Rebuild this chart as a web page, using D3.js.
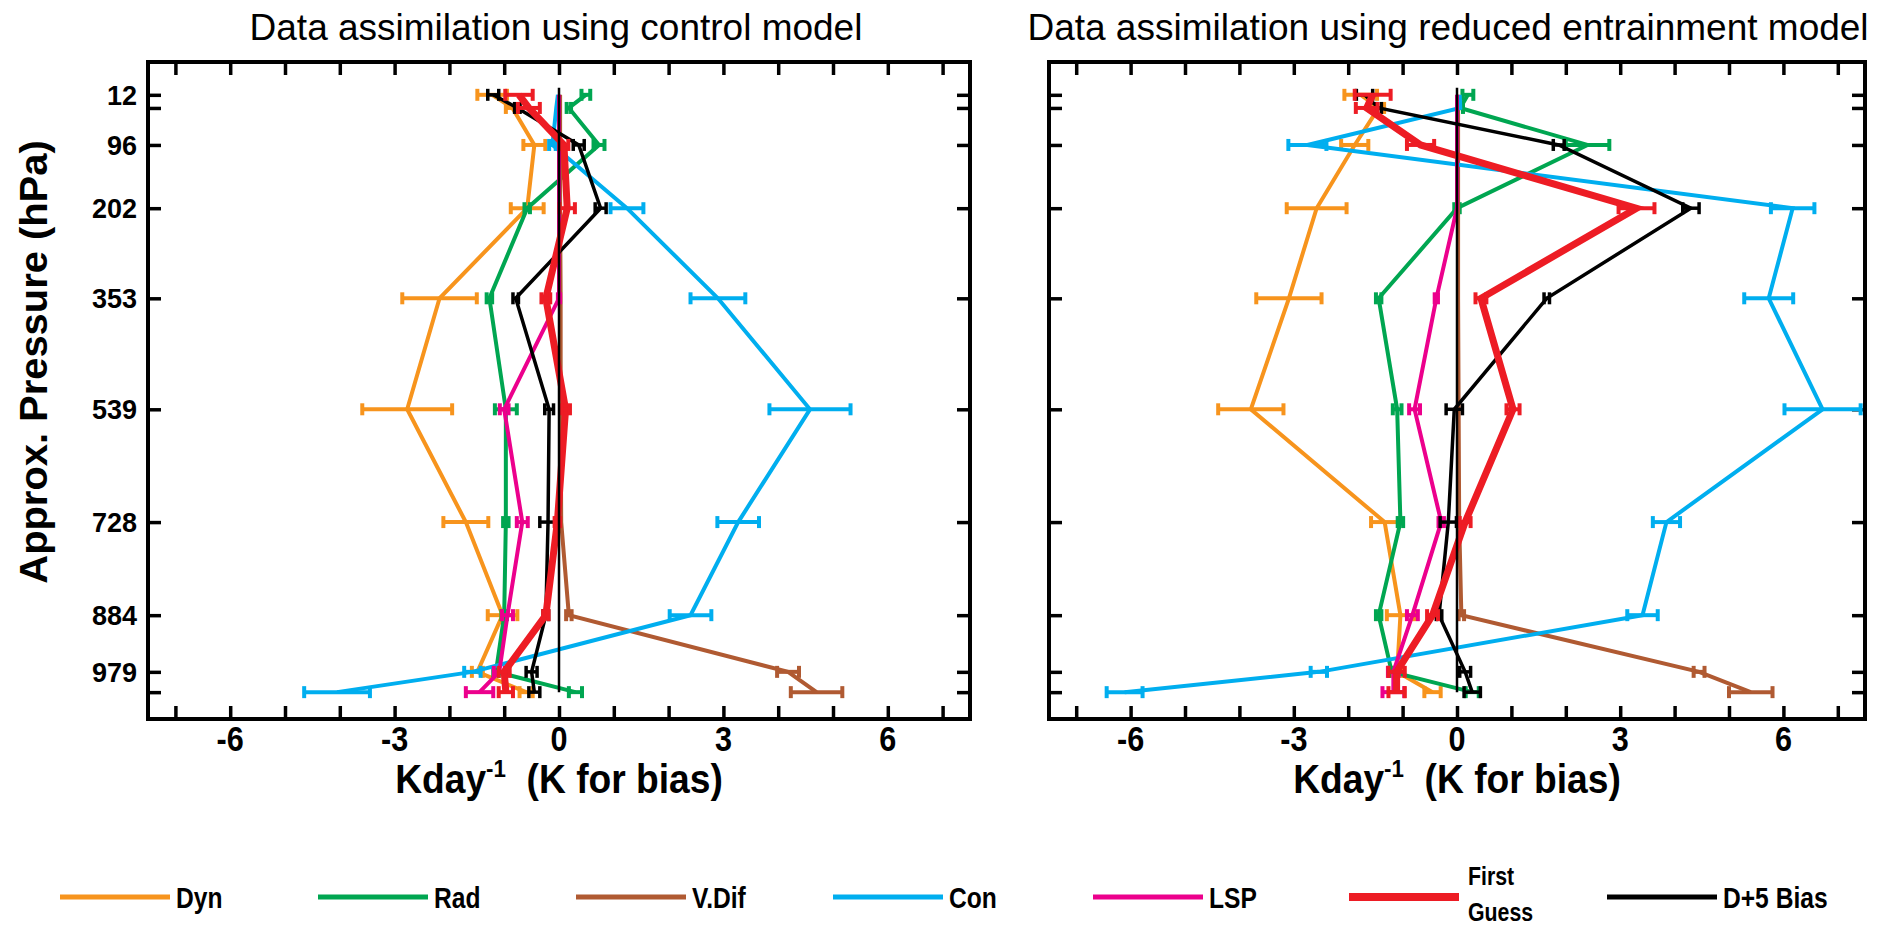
<!DOCTYPE html>
<html lang="en">
<head>
<meta charset="UTF-8">
<title>Data assimilation tendency profiles</title>
<script src="https://d3js.org/d3.v7.min.js"></script>
<style>
  body { margin: 0; background: #fff; }
  svg text { font-family: "Liberation Sans", Arial, sans-serif; fill: #000; }
</style>
</head>
<body>
<svg id="main" width="1880" height="934"></svg>
<script>
// levels (approx. pressure, hPa) and tick labels
const levels = [12, 34, 96, 202, 353, 539, 728, 884, 979, 1013];
const levelLabels = [12, 96, 202, 353, 539, 728, 884, 979];
const xTickLabels = [-6, -3, 0, 3, 6];
const xTicks = d3.range(-7, 8);

const names = ['Dyn', 'Rad', 'V.Dif', 'Con', 'LSP', 'First Guess', 'D+5 Bias'];
const colors = ['#f7941d', '#00a651', '#b05a32', '#00aeef', '#ec008c', '#ed1c24', '#000000'];
const widths = [4, 4, 4, 4, 4, 7, 3.5];

// control model
const ctlDyn = [-1.22, -0.85, -0.45, -0.58, -2.18, -2.77, -1.70, -1.03, -1.49, -0.60];
const ctlDynErr = [0.27, 0.12, 0.2, 0.3, 0.68, 0.82, 0.41, 0.27, 0.1, 0.12];
const ctlRad = [0.49, 0.18, 0.73, -0.58, -1.27, -0.97, -0.97, -1.0, -1.15, 0.3];
const ctlRadErr = [0.08, 0.04, 0.1, 0.05, 0.05, 0.2, 0.05, 0.05, 0.05, 0.12];
const ctlVdf = [0.02, 0.02, 0.02, 0.02, 0.03, 0.03, 0.04, 0.18, 4.18, 4.7];
const ctlVdfErr = [0, 0, 0, 0, 0, 0, 0, 0.05, 0.2, 0.47];
const ctlCon = [-0.02, -0.05, -0.12, 1.24, 2.9, 4.58, 3.27, 2.4, -1.58, -4.05];
const ctlConErr = [0, 0, 0.06, 0.3, 0.5, 0.74, 0.38, 0.38, 0.15, 0.6];
const ctlLsp = [0, 0, 0, 0, 0, -1.0, -0.67, -0.94, -1.09, -1.45];
const ctlLspErr = [0, 0, 0, 0, 0.02, 0.08, 0.1, 0.1, 0.1, 0.25];
const ctlFg = [-0.73, -0.55, 0.09, 0.15, -0.24, 0.12, -0.03, -0.24, -1.0, -0.97];
const ctlFgErr = [0.25, 0.2, 0.08, 0.14, 0.08, 0.08, 0.05, 0.05, 0.1, 0.13];
const ctlBias = [-1.2, -0.76, 0.36, 0.76, -0.79, -0.18, -0.2, -0.24, -0.5, -0.45];
const ctlBiasErr = [0.1, 0.05, 0.1, 0.1, 0.05, 0.08, 0.15, 0.05, 0.1, 0.1];

// reduced entrainment model
const redDyn = [-1.77, -1.44, -1.88, -2.58, -3.09, -3.79, -1.33, -1.04, -1.1, -0.45];
const redDynErr = [0.3, 0.1, 0.25, 0.55, 0.6, 0.6, 0.25, 0.25, 0.1, 0.15];
const redRad = [0.2, 0.06, 2.4, 0.0, -1.44, -1.1, -1.04, -1.44, -1.2, 0.28];
const redRadErr = [0.1, 0.05, 0.4, 0.05, 0.05, 0.08, 0.05, 0.05, 0.05, 0.12];
const redVdf = [0.02, 0.02, 0.02, 0.02, 0.02, 0.03, 0.04, 0.08, 4.45, 5.4];
const redVdfErr = [0, 0, 0, 0, 0, 0, 0, 0.05, 0.1, 0.4];
const redCon = [0.05, 0.06, -2.75, 6.17, 5.73, 6.72, 3.85, 3.41, -2.54, -6.11];
const redConErr = [0, 0, 0.35, 0.4, 0.45, 0.7, 0.25, 0.28, 0.15, 0.33];
const redLsp = [0, 0, 0, 0, -0.38, -0.78, -0.29, -0.82, -1.17, -1.17];
const redLspErr = [0, 0, 0, 0, 0.03, 0.1, 0.05, 0.1, 0.1, 0.2];
const redFg = [-1.55, -1.66, -0.67, 3.30, 0.44, 1.03, 0.15, -0.45, -1.11, -1.11];
const redFgErr = [0.33, 0.2, 0.25, 0.33, 0.1, 0.12, 0.1, 0.1, 0.15, 0.15];
const redBias = [-1.70, -1.44, 1.87, 4.30, 1.65, -0.05, -0.16, -0.33, 0.15, 0.28];
const redBiasErr = [0.15, 0.05, 0.1, 0.15, 0.05, 0.15, 0.15, 0.05, 0.1, 0.15];

const ctlSeries = [[ctlDyn, ctlDynErr], [ctlRad, ctlRadErr], [ctlVdf, ctlVdfErr], [ctlCon, ctlConErr],
                   [ctlLsp, ctlLspErr], [ctlFg, ctlFgErr], [ctlBias, ctlBiasErr]];
const redSeries = [[redDyn, redDynErr], [redRad, redRadErr], [redVdf, redVdfErr], [redCon, redConErr],
                   [redLsp, redLspErr], [redFg, redFgErr], [redBias, redBiasErr]];

let svg = d3.select('svg#main');
let yTop = 62, yBottom = 719;
let y = d3.scaleLinear().domain([-43, 1058]).range([yTop, yBottom]);

// draw order: Bias under First Guess
const order = [0, 1, 2, 3, 4, 6, 5];

function drawPanel(x0, x1, series, title, titleX, showY) {
    let g = svg.append('g');
    let x = d3.scaleLinear().domain([-7.5, 7.5]).range([x0, x1]);

    // inward ticks on all four sides
    let tk = 13;
    g.append('g').attr('transform', 'translate(0,' + yBottom + ')')
        .call(d3.axisBottom(x).tickValues(xTicks).tickSize(-tk).tickFormat(''));
    g.append('g').attr('transform', 'translate(0,' + yTop + ')')
        .call(d3.axisTop(x).tickValues(xTicks).tickSize(-tk).tickFormat(''));
    g.append('g').attr('transform', 'translate(' + x0 + ',0)')
        .call(d3.axisLeft(y).tickValues(levels).tickSize(-tk).tickFormat(''));
    g.append('g').attr('transform', 'translate(' + x1 + ',0)')
        .call(d3.axisRight(y).tickValues(levels).tickSize(-tk).tickFormat(''));
    g.selectAll('.domain').remove();
    g.selectAll('.tick line').attr('stroke', '#000').attr('stroke-width', 3.5);

    let line = d3.line().x(d => x(d.v)).y(d => y(d.p));

    order.forEach(function (i) {
        let vals = series[i][0], errs = series[i][1];
        let pts = levels.map((p, k) => ({p: p, v: vals[k], e: errs[k]}));
        let sg = g.append('g').attr('stroke', colors[i]).attr('fill', 'none')
            .attr('stroke-width', widths[i]);
        sg.append('path').attr('d', line(pts)).attr('stroke-linejoin', 'miter');
        let eb = sg.selectAll('g.err').data(pts.filter(d => d.e > 0)).enter().append('g')
            .attr('stroke-width', Math.min(widths[i], 4));
        eb.append('line')
            .attr('x1', d => x(d.v - d.e)).attr('x2', d => x(d.v + d.e))
            .attr('y1', d => y(d.p)).attr('y2', d => y(d.p));
        [-1, 1].forEach(function (s) {
            eb.append('line')
                .attr('x1', d => x(d.v + s * d.e)).attr('x2', d => x(d.v + s * d.e))
                .attr('y1', d => y(d.p) - 6).attr('y2', d => y(d.p) + 6);
        });
    });

    // zero line
    g.append('line').attr('x1', x(0)).attr('x2', x(0))
        .attr('y1', y(0)).attr('y2', y(levels[levels.length - 1]))
        .attr('stroke', '#000').attr('stroke-width', 2.5);

    // frame
    g.append('rect').attr('x', x0).attr('y', yTop).attr('width', x1 - x0).attr('height', yBottom - yTop)
        .attr('fill', 'none').attr('stroke', '#000').attr('stroke-width', 4);

    // x tick labels
    g.selectAll('text.xl').data(xTickLabels).enter().append('text')
        .attr('transform', d => 'translate(' + x(d) + ',' + 751 + ') scale(0.85,1)')
        .attr('text-anchor', 'middle').attr('font-size', 36).attr('font-weight', 'bold')
        .text(d => d);

    // x axis title
    let xt = g.append('text')
        .attr('transform', 'translate(' + x(0) + ',' + 793 + ') scale(0.93,1)')
        .attr('text-anchor', 'middle').attr('font-size', 40).attr('font-weight', 'bold');
    xt.append('tspan').text('Kday');
    xt.append('tspan').attr('font-size', 24).attr('dy', -16).text('-1');
    xt.append('tspan').attr('dy', 16).text('\u00a0\u00a0(K for bias)');

    // title
    g.append('text').attr('x', titleX).attr('y', 40)
        .attr('text-anchor', 'middle').attr('font-size', 37)
        .text(title);

    if (showY) {
        g.selectAll('text.yl').data(levelLabels).enter().append('text')
            .attr('x', 137).attr('y', d => y(d)).attr('dy', '0.36em')
            .attr('text-anchor', 'end').attr('font-size', 27).attr('font-weight', 'bold')
            .text(d => d);
        g.append('text')
            .attr('transform', 'translate(47,362) rotate(-90) scale(1.05,1)')
            .attr('text-anchor', 'middle').attr('font-size', 38).attr('font-weight', 'bold')
            .text('Approx. Pressure (hPa)');
    }
}

drawPanel(148, 970, ctlSeries, 'Data assimilation using control model', 556, true);
drawPanel(1049, 1865, redSeries, 'Data assimilation using reduced entrainment model', 1448, false);

// legend
const legendX = [60, 318, 576, 833, 1093, 1349, 1607];
let legY = 897;
let lg = svg.append('g');
names.forEach(function (n, i) {
    lg.append('line').attr('x1', legendX[i]).attr('x2', legendX[i] + 110)
        .attr('y1', legY).attr('y2', legY)
        .attr('stroke', colors[i]).attr('stroke-width', i === 5 ? 8 : 5);
    let t = lg.append('text').attr('font-size', 30).attr('font-weight', 'bold');
    if (n === 'First Guess') {
        t.attr('transform', 'translate(' + (legendX[i] + 119) + ',' + (legY - 12) + ') scale(0.82,1)');
        t.append('tspan').attr('x', 0).attr('font-size', 26).text('First');
        t.append('tspan').attr('x', 0).attr('dy', 36).attr('font-size', 26).text('Guess');
    } else {
        t.attr('transform', 'translate(' + (legendX[i] + 116) + ',' + (legY + 11) + ') scale(0.82,1)')
            .text(n);
    }
});
</script>
</body>
</html>
